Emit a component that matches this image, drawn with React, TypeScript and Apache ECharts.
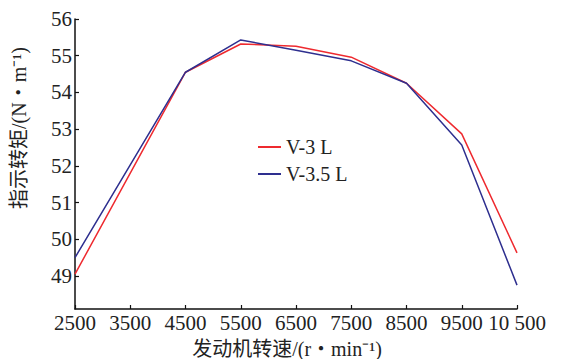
import React, { useEffect, useRef } from "react";
import * as echarts from "echarts";

const speeds = [2500, 4500, 5500, 6500, 7500, 8500, 9500, 10500];
const torqueV3 = [49.05, 54.55, 55.32, 55.26, 54.96, 54.25, 52.87, 49.63];
const torqueV35 = [49.5, 54.55, 55.43, 55.15, 54.86, 54.25, 52.57, 48.75];
const seriesNames = ["V-3 L", "V-3.5 L"];
const xName = "发动机转速/(r・min⁻¹)";
const yName = "指示转矩/(N・m⁻¹)";

export default function App() {
  const ref = useRef<HTMLDivElement>(null);
  useEffect(() => {
    if (!ref.current) return;
    const chart = echarts.init(ref.current, undefined, { renderer: "svg" });
    const serif = "'Liberation Serif', 'Times New Roman', serif";
    const cjk = "'Liberation Serif', 'Noto Sans CJK SC', serif";
    chart.setOption({
      animation: false,
      backgroundColor: "#fff",
      grid: { left: 75, right: 48, top: 19, bottom: 50, containLabel: false },
      legend: {
        orient: "vertical",
        left: 253,
        top: 131,
        itemWidth: 23,
        itemHeight: 2,
        itemGap: 5,
        icon: "rect",
        textStyle: { fontFamily: serif, fontSize: 20, color: "#222", lineHeight: 22 },
        data: seriesNames,
      },
      xAxis: {
        type: "value",
        min: 2500,
        max: 10500,
        interval: 1000,
        axisLine: { lineStyle: { color: "#111", width: 1.5 } },
        axisTick: { inside: true, length: 4, lineStyle: { color: "#111", width: 1.2 } },
        splitLine: { show: false },
        axisLabel: {
          color: "#222",
          fontFamily: serif,
          fontSize: 21,
          margin: 3,
          formatter: (v: number) => (v >= 10000 ? String(v).replace(/^(\d+)(\d{3})$/, "$1 $2") : String(v)),
        },
      },
      yAxis: {
        type: "value",
        min: 48.1,
        max: 56,
        splitNumber: 8,
        minInterval: 1,
        maxInterval: 1,
        axisLine: { show: true, lineStyle: { color: "#111", width: 1.5 } },
        axisTick: { show: true, inside: true, length: 4, lineStyle: { color: "#111", width: 1.2 } },
        splitLine: { show: false },
        axisLabel: {
          showMinLabel: false,
          color: "#222",
          fontFamily: serif,
          fontSize: 21,
          margin: 3,
          formatter: (v: number) => (Number.isInteger(v) ? String(v) : ""),
        },
      },
      graphic: [
        {
          type: "text",
          x: 287,
          y: 349,
          style: {
            text: xName,
            font: `20px ${cjk}`,
            fill: "#222",
            align: "center",
            verticalAlign: "middle",
          },
        },
        {
          type: "text",
          x: 19,
          y: 128,
          rotation: Math.PI / 2,
          style: {
            text: yName,
            font: `20px ${cjk}`,
            fill: "#222",
            align: "center",
            verticalAlign: "middle",
          },
        },
      ],
      series: [
        {
          name: seriesNames[0],
          type: "line",
          data: speeds.map((s, i) => [s, torqueV3[i]]),
          showSymbol: false,
          symbol: "none",
          lineStyle: { color: "#ee2a2f", width: 1.5 },
          itemStyle: { color: "#ee2a2f" },
        },
        {
          name: seriesNames[1],
          type: "line",
          data: speeds.map((s, i) => [s, torqueV35[i]]),
          showSymbol: false,
          symbol: "none",
          lineStyle: { color: "#2e2f8f", width: 1.5 },
          itemStyle: { color: "#2e2f8f" },
        },
      ],
    });
    return () => chart.dispose();
  }, []);
  return (
    <div
      ref={ref}
      style={{ position: "absolute", left: 0, top: 0, width: 565, height: 359 }}
    />
  );
}
